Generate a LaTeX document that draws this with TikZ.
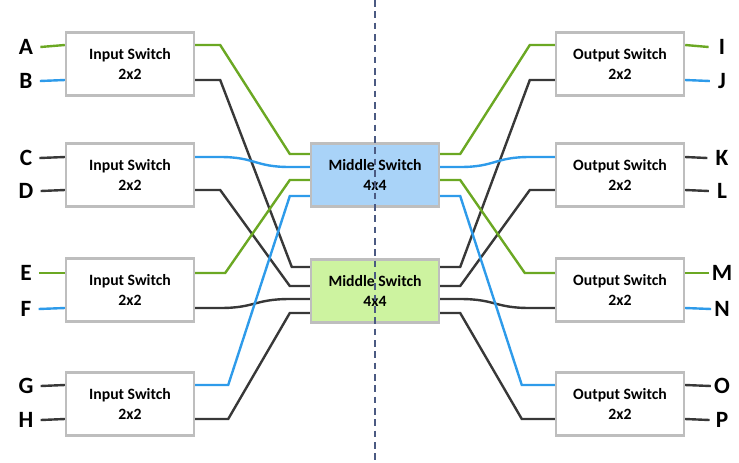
\documentclass[tikz,border=0pt]{standalone}
\usepackage{fontspec}
\setmainfont{Carlito}
\usetikzlibrary{calc}
\definecolor{wgreen}{HTML}{6BA823}
\definecolor{wblue}{HTML}{2E9BEA}
\definecolor{wdark}{HTML}{383838}
\definecolor{boxgray}{HTML}{BEBEBE}
\definecolor{midblue}{HTML}{A9D3F8}
\definecolor{midgreen}{HTML}{CDF3A0}
\definecolor{axis}{HTML}{4B5A82}
\tikzset{
  swbox/.style={draw=boxgray, line width=1.8pt, fill=white, minimum width=96pt,
    minimum height=47.5pt, inner sep=0pt, align=center,
    font=\bfseries\fontsize{11.8}{15.5}\selectfont},
  portlbl/.style={font=\bfseries\fontsize{17.5}{20}\selectfont, inner sep=0pt},
  wire/.style={line width=1.8pt},
  gw/.style={wire, draw=wgreen},
  bw/.style={wire, draw=wblue},
  dw/.style={wire, draw=wdark},
}
\begin{document}
\begin{tikzpicture}[x=0.75pt, y=-0.75pt]
\useasboundingbox (0,0) rectangle (739,462);

% switch boxes
\node[swbox] (in1) at (130,64)  {Input Switch\\2x2};
\node[swbox] (in2) at (130,175) {Input Switch\\2x2};
\node[swbox] (in3) at (130,290) {Input Switch\\2x2};
\node[swbox] (in4) at (130,404) {Input Switch\\2x2};
\node[swbox] (out1) at (620,64)  {Output Switch\\2x2};
\node[swbox] (out2) at (620,175) {Output Switch\\2x2};
\node[swbox] (out3) at (620,290) {Output Switch\\2x2};
\node[swbox] (out4) at (620,404) {Output Switch\\2x2};
\node[swbox, fill=midblue]  (mA) at (375,175) {Middle Switch\\4x4};
\node[swbox, fill=midgreen] (mB) at (375,291) {Middle Switch\\4x4};

% outer port labels
\node[portlbl] (A) at (26,47)  {A};
\node[portlbl] (B) at (26,81)  {B};
\node[portlbl] (C) at (26,158) {C};
\node[portlbl] (D) at (26,191) {D};
\node[portlbl] (E) at (26,273) {E};
\node[portlbl] (F) at (26,309) {F};
\node[portlbl] (G) at (26,386) {G};
\node[portlbl] (H) at (26,420) {H};
\node[portlbl] (I) at (722,47)  {I};
\node[portlbl] (J) at (722,81)  {J};
\node[portlbl] (K) at (722,158) {K};
\node[portlbl] (L) at (722,191) {L};
\node[portlbl] (M) at (722,273) {M};
\node[portlbl] (N) at (722,309) {N};
\node[portlbl] (O) at (722,386) {O};
\node[portlbl] (P) at (722,420) {P};

% port coordinates on the box edges
\foreach \n/\t/\b in {1/45/80, 2/157/190, 3/273/308, 4/385/419}{
  \coordinate (in\n t) at (in\n.west |- 0,\t);
  \coordinate (in\n b) at (in\n.west |- 0,\b);
  \coordinate (in\n T) at (in\n.east |- 0,\t);
  \coordinate (in\n B) at (in\n.east |- 0,\b);
  \coordinate (out\n t) at (out\n.west |- 0,\t);
  \coordinate (out\n b) at (out\n.west |- 0,\b);
  \coordinate (out\n T) at (out\n.east |- 0,\t);
  \coordinate (out\n B) at (out\n.east |- 0,\b);
}
\foreach \k/\y in {1/154, 2/167, 3/180, 4/196}{
  \coordinate (mAl\k) at (mA.west |- 0,\y);
  \coordinate (mAr\k) at (mA.east |- 0,\y);
}
\foreach \k/\y in {1/267, 2/286, 3/299, 4/313}{
  \coordinate (mBl\k) at (mB.west |- 0,\y);
  \coordinate (mBr\k) at (mB.east |- 0,\y);
}

% outer stubs
\draw[gw] ($(A.east)+(7,0)$) -- (in1t);
\draw[bw] ($(B.east)+(7,0)$) -- (in1b);
\draw[dw] ($(C.east)+(7,0)$) -- (in2t);
\draw[dw] ($(D.east)+(7,0)$) -- (in2b);
\draw[gw] ($(E.east)+(7,0)$) -- (in3t);
\draw[bw] ($(F.east)+(7,0)$) -- (in3b);
\draw[dw] ($(G.east)+(7,0)$) -- (in4t);
\draw[dw] ($(H.east)+(7,0)$) -- (in4b);
\draw[gw] (out1T) -- ($(I.west)+(-10,0)$);
\draw[bw] (out1B) -- ($(J.west)+(-8,0)$);
\draw[dw] (out2T) -- ($(K.west)+(-8,0)$);
\draw[dw] (out2B) -- ($(L.west)+(-8,0)$);
\draw[gw] (out3T) -- ($(M.west)+(-3,0)$);
\draw[bw] (out3B) -- ($(N.west)+(-3,0)$);
\draw[dw] (out4T) -- ($(O.west)+(-3,0)$);
\draw[dw] (out4B) -- ($(P.west)+(-6,0)$);

% input stage to middle stage
\draw[gw] (in1T) -- ++(25,0) -- ($(mAl1)+(-20,0)$) -- (mAl1);
\draw[dw] (in1B) -- ++(25,0) -- ($(mBl1)+(-18,0)$) -- (mBl1);
\draw[bw] (in2T) -- ++(25,0) .. controls +(35,0) and ($(mAl2)+(-55,0)$) .. ($(mAl2)+(-20,0)$) -- (mAl2);
\draw[dw] (in2B) -- ++(25,0) -- ($(mBl2)+(-20,0)$) -- (mBl2);
\draw[gw] (in3T) -- ++(30,0) -- ($(mAl3)+(-20,0)$) -- (mAl3);
\draw[dw] (in3B) -- ++(25,0) .. controls +(35,0) and ($(mBl3)+(-55,0)$) .. ($(mBl3)+(-20,0)$) -- (mBl3);
\draw[bw] (in4T) -- ++(33,0) -- ($(mAl4)+(-20,0)$) -- (mAl4);
\draw[dw] (in4B) -- ++(33,0) -- ($(mBl4)+(-20,0)$) -- (mBl4);

% middle stage to output stage
\draw[gw] (mAr1) -- ++(20,0) -- ($(out1t)+(-25,0)$) -- (out1t);
\draw[dw] (mBr1) -- ++(20,0) -- ($(out1b)+(-25,0)$) -- (out1b);
\draw[bw] (mAr2) -- ++(20,0) .. controls +(35,0) and ($(out2t)+(-60,0)$) .. ($(out2t)+(-25,0)$) -- (out2t);
\draw[dw] (mBr2) -- ++(20,0) -- ($(out2b)+(-25,0)$) -- (out2b);
\draw[gw] (mAr3) -- ++(20,0) -- ($(out3t)+(-30,0)$) -- (out3t);
\draw[dw] (mBr3) -- ++(20,0) .. controls +(35,0) and ($(out3b)+(-60,0)$) .. ($(out3b)+(-25,0)$) -- (out3b);
\draw[bw] (mAr4) -- ++(20,0) -- ($(out4t)+(-33,0)$) -- (out4t);
\draw[dw] (mBr4) -- ++(20,0) -- ($(out4b)+(-33,0)$) -- (out4b);

% dividing axis
\coordinate (axtop) at (375,0);
\coordinate (axbot) at (375,462);
\draw[draw=axis, line width=1.2pt, dash pattern=on 5pt off 3.5pt] (axtop) -- (axbot);
\end{tikzpicture}
\end{document}
